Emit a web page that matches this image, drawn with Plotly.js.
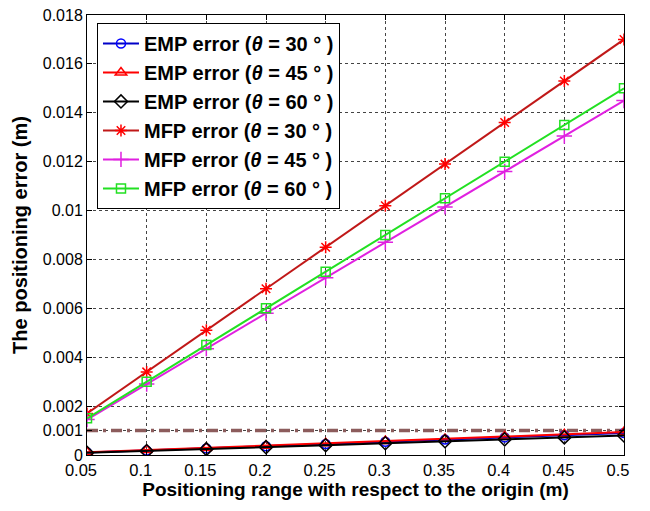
<!DOCTYPE html>
<html>
<head>
<meta charset="utf-8">
<script src="https://cdn.plot.ly/plotly-3.0.1.min.js"></script>
<style>html,body{margin:0;padding:0;background:#fff;}</style>
</head>
<body>
<div id="chart" style="width:650px;height:511px;"></div>
<script>
// Data
const xRange = [0.05, 0.1, 0.15, 0.2, 0.25, 0.3, 0.35, 0.4, 0.45, 0.5];
const emp30 = [0.0001, 0.00018, 0.00027, 0.00036, 0.00045, 0.00054, 0.00063, 0.00072, 0.00081, 0.0009];
const emp45 = [0.00011, 0.0002, 0.00029, 0.00038, 0.00048, 0.00057, 0.00066, 0.00076, 0.00085, 0.00094];
const emp60 = [0.00009, 0.00016, 0.00024, 0.00032, 0.0004, 0.00048, 0.00056, 0.00064, 0.00072, 0.0008];
const mfp30 = [0.0017, 0.0034, 0.0051, 0.0068, 0.0085, 0.0102, 0.0119, 0.0136, 0.0153, 0.017];
const mfp45 = [0.00145, 0.0029, 0.00435, 0.0058, 0.00725, 0.0087, 0.01015, 0.0116, 0.01305, 0.0145];
const mfp60 = [0.0015, 0.003, 0.0045, 0.006, 0.0075, 0.009, 0.0105, 0.012, 0.0135, 0.015];
const thresholdX = [0.05, 0.5];
const thresholdY = [0.001, 0.001];
const seriesNames = [
  'EMP error (<i>θ</i> = 30 ° )', 'EMP error (<i>θ</i> = 45 ° )', 'EMP error (<i>θ</i> = 60 ° )',
  'MFP error (<i>θ</i> = 30 ° )', 'MFP error (<i>θ</i> = 45 ° )', 'MFP error (<i>θ</i> = 60 ° )'
];
const xTickVals = [0.05, 0.1, 0.15, 0.2, 0.25, 0.3, 0.35, 0.4, 0.45, 0.5];
const xTickText = ['0.05', '0.1', '0.15', '0.2', '0.25', '0.3', '0.35', '0.4', '0.45', '0.5'];
const yTickVals = [0, 0.001, 0.002, 0.004, 0.006, 0.008, 0.01, 0.012, 0.014, 0.016, 0.018];
const yTickText = ['0', '0.001', '0.002', '0.004', '0.006', '0.008', '0.01', '0.012', '0.014', '0.016', '0.018'];

const styles = [
  {line: '#0000c8', marker: '#0000ff', symbol: 'circle-open', size: 9},
  {line: '#ff0000', marker: '#ff0000', symbol: 'triangle-up-open', size: 10},
  {line: '#000000', marker: '#000000', symbol: 'diamond-open', size: 10},
  {line: '#c01818', marker: '#ff0000', symbol: 'asterisk-open', size: 10},
  {line: '#e020e0', marker: '#e020e0', symbol: 'cross-thin-open', size: 11},
  {line: '#22e022', marker: '#22e022', symbol: 'square-open', size: 9}
];
const ys = [emp30, emp45, emp60, mfp30, mfp45, mfp60];

const traces = [];
traces.push({
  x: thresholdX, y: thresholdY, mode: 'lines', showlegend: false, hoverinfo: 'skip',
  line: {color: '#8c5c5c', width: 3.5, dash: '11px,5px,3px,5px'}
});
ys.forEach((y, i) => {
  traces.push({
    x: xRange, y: y, name: seriesNames[i], mode: 'lines+markers', legendgroup: 'g' + i,
    line: {color: styles[i].line, width: 2},
    marker: {symbol: styles[i].symbol, size: styles[i].size, color: styles[i].marker,
             line: {color: styles[i].marker, width: 1.5}}
  });
});

const font = {family: 'Liberation Sans, Arial, sans-serif', color: '#000'};
const layout = {
  width: 650, height: 511,
  margin: {l: 87, r: 26, t: 15, b: 56},
  paper_bgcolor: '#fff', plot_bgcolor: '#fff',
  font: Object.assign({size: 16}, font),
  showlegend: true,
  legend: {
    x: 0.0186, y: 0.982, xanchor: 'left', yanchor: 'top',
    bordercolor: '#000', borderwidth: 1, bgcolor: '#fff',
    font: Object.assign({size: 20, weight: 'bold'}, font),
    tracegroupgap: 0, itemwidth: 36
  },
  xaxis: {
    range: [0.05, 0.5], tickvals: xTickVals, ticktext: xTickText,
    showline: true, linecolor: '#000', linewidth: 1, mirror: 'ticks',
    ticks: 'inside', ticklen: 5, tickcolor: '#000',
    showgrid: true, gridcolor: '#444', griddash: 'dot', gridwidth: 1,
    zeroline: false, tickfont: {size: 16.5}, ticklabelshift: -6,
    title: {text: '<b>Positioning range with respect to the origin (m)</b>', font: {size: 19}, standoff: 4}
  },
  yaxis: {
    range: [0, 0.018], tickvals: yTickVals, ticktext: yTickText,
    showline: true, linecolor: '#000', linewidth: 1, mirror: 'ticks',
    ticks: 'inside', ticklen: 5, tickcolor: '#000',
    showgrid: true, gridcolor: '#444', griddash: 'dot', gridwidth: 1,
    zeroline: false, tickfont: {size: 16},
    title: {text: '<b>The positioning error (m)</b>', font: {size: 20}, standoff: 9}
  }
};

Plotly.newPlot('chart', traces, layout, {displayModeBar: false, staticPlot: true});
</script>
</body>
</html>
